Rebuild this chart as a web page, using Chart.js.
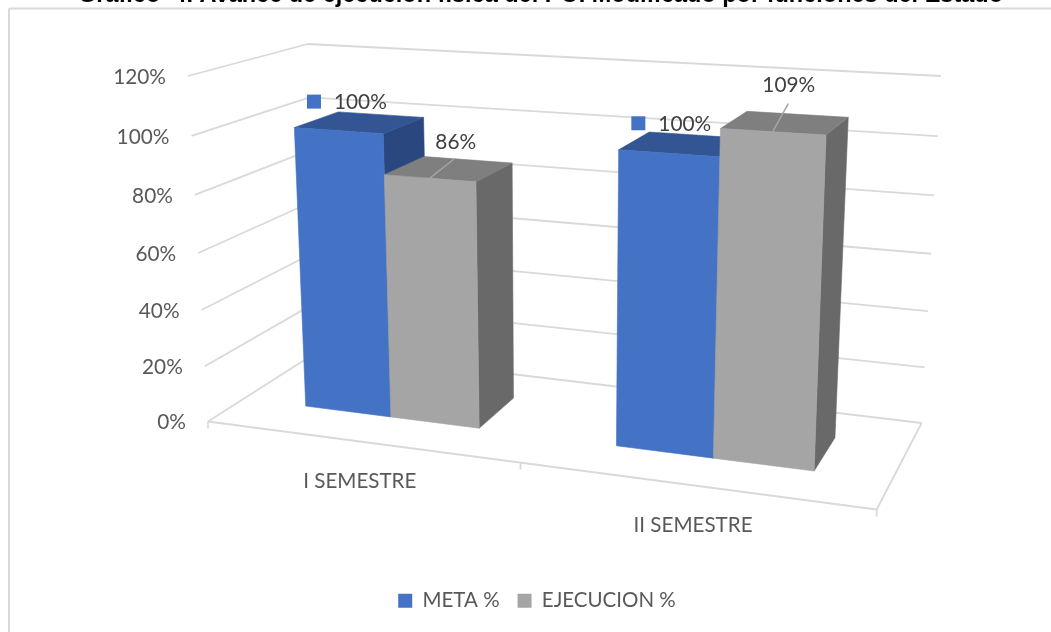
<!DOCTYPE html>
<html>
<head>
<meta charset="utf-8">
<style>html,body{margin:0;padding:0;background:#fff}canvas{display:block}</style>
<script src="https://cdn.jsdelivr.net/npm/chart.js@4"></script>
</head>
<body>
<canvas id="c" width="1051" height="632"></canvas>
<script>
const titleText = 'Gráfico  4. Avance de ejecución física del POI Modificado por funciones del Estado';
const categories = ['I SEMESTRE', 'II SEMESTRE'];
const seriesNames = ['META %', 'EJECUCION %'];
const metaValues = [100, 100];
const ejecucionValues = [86, 109];
const axisMax = 120;
const axisStep = 20;

// projection of the unit box (u across, v up, w into the picture) onto the page
const corners = {
  fbl: [208, 421.5], fbr: [876.7, 509.5], bbl: [318.6, 351], bbr: [921.6, 423],
  ftl: [188, 76], ftr: [893, 118], btl: [307.6, 44], btr: [941, 76]
};
const uPersp = 1.14, vPersp = 1.05;
const barFront = 0.33, barBack = 0.725;
const warp = (t, k) => t / (t + k * (1 - t));
const mix = (a, b, t) => [a[0] + (b[0] - a[0]) * t, a[1] + (b[1] - a[1]) * t];
function P(u, v, w) {
  const U = warp(u, uPersp), V = warp(v, vPersp), c = corners;
  const bottom = mix(mix(c.fbl, c.fbr, U), mix(c.bbl, c.bbr, U), w);
  const top = mix(mix(c.ftl, c.ftr, U), mix(c.btl, c.btr, U), w);
  return mix(bottom, top, V);
}
const faces = [
  {front: '#4472C4', top: '#335593', side: '#2A4780'},
  {front: '#A5A5A5', top: '#7F7F7F', side: '#696969'}
];
// label placement relative to the top centre of each bar's front face
const labelPlacement = [
  [{dx: 22, dy: -28, key: true}, {dx: 16, dy: -29, key: true}],
  [{dx: 26, dy: -36, lead: [24, -19]}, {dx: 16, dy: -46, lead: [15.5, -28]}]
];
const FONT = 'Lato, sans-serif';

function poly(ctx, pts, fill) {
  ctx.beginPath();
  pts.forEach((p, i) => i ? ctx.lineTo(p[0], p[1]) : ctx.moveTo(p[0], p[1]));
  ctx.closePath();
  ctx.fillStyle = fill; ctx.strokeStyle = fill; ctx.lineWidth = 0.6;
  ctx.fill(); ctx.stroke();
}
function line(ctx, a, b, color, width) {
  ctx.beginPath(); ctx.moveTo(a[0], a[1]); ctx.lineTo(b[0], b[1]);
  ctx.strokeStyle = color; ctx.lineWidth = width; ctx.stroke();
}

const box3d = {
  id: 'box3d',
  beforeDatasetsDraw(chart) {
    const {ctx, chartArea: ca, scales: {x, y}} = chart;
    const toU = px => (px - ca.left) / ca.width;
    const toV = val => (y.bottom - y.getPixelForValue(val)) / y.height;
    const grid = '#D9D9D9', gw = 1.8;
    ctx.save();
    // frame
    line(ctx, [9, 8.5], [1051, 8.5], '#D9D9D9', 2);
    line(ctx, [9, 8.5], [9, 632], '#D9D9D9', 2);
    // title
    ctx.fillStyle = '#000'; ctx.font = 'bold 23.5px "Liberation Sans", Arial, sans-serif';
    ctx.textAlign = 'center'; ctx.textBaseline = 'alphabetic';
    ctx.fillText(titleText, 540.5, 2);
    // walls + value labels
    y.ticks.forEach(t => {
      const v = toV(t.value);
      const a = P(0, v, 0), b = P(0, v, 1), c = P(1, v, 1);
      ctx.lineJoin = 'round';
      ctx.beginPath(); ctx.moveTo(a[0], a[1]); ctx.lineTo(b[0], b[1]); ctx.lineTo(c[0], c[1]);
      ctx.strokeStyle = grid; ctx.lineWidth = gw; ctx.stroke();
      ctx.fillStyle = '#595959'; ctx.font = '20.8px ' + FONT;
      ctx.textAlign = 'right'; ctx.textBaseline = 'middle';
      ctx.fillText(t.label, a[0] - 22, a[1] + 1);
    });
    // floor front + right edge, ticks
    line(ctx, P(0, 0, 0), P(1, 0, 0), grid, gw);
    line(ctx, P(1, 0, 0), P(1, 0, 1), grid, gw);
    [0, 0.5, 1].forEach(u => {
      const p = P(u, 0, 0);
      line(ctx, p, [p[0], p[1] + 7], grid, gw);
    });
    // category labels
    categories.forEach((name, i) => {
      const p = P(toU(x.getPixelForValue(i)), 0, 0);
      ctx.fillStyle = '#595959'; ctx.font = '20.6px ' + FONT;
      ctx.textAlign = 'center'; ctx.textBaseline = 'middle';
      ctx.fillText(name, p[0] + 0.5, p[1] + 40);
    });
    // bars
    const w0 = barFront, w1 = barBack;
    categories.forEach((_, j) => {
      chart.data.datasets.forEach((ds, i) => {
        const el = chart.getDatasetMeta(i).data[j];
        const u0 = toU(el.x - el.width / 2), u1 = toU(el.x + el.width / 2);
        const v = toV(ds.data[j]), c = faces[i];
        poly(ctx, [P(u1, 0, w0), P(u1, 0, w1), P(u1, v, w1), P(u1, v, w0)], c.side);
        poly(ctx, [P(u0, v, w0), P(u0, v, w1), P(u1, v, w1), P(u1, v, w0)], c.top);
        poly(ctx, [P(u0, 0, w0), P(u1, 0, w0), P(u1, v, w0), P(u0, v, w0)], c.front);
      });
    });
    // data labels
    chart.data.datasets.forEach((ds, i) => {
      ds.data.forEach((val, j) => {
        const el = chart.getDatasetMeta(i).data[j];
        const a = P(toU(el.x), toV(val), w0), l = labelPlacement[i][j];
        const cx = a[0] + l.dx, cy = a[1] + l.dy;
        if (l.lead) line(ctx, a, [a[0] + l.lead[0], a[1] + l.lead[1]], '#A6A6A6', 1.5);
        ctx.font = '20.8px ' + FONT; ctx.fillStyle = '#404040';
        ctx.textAlign = 'center'; ctx.textBaseline = 'middle';
        const text = val + '%';
        ctx.fillText(text, cx, cy);
        if (l.key) {
          ctx.fillStyle = ds.backgroundColor;
          ctx.fillRect(cx - ctx.measureText(text).width / 2 - 27, cy - 8, 14, 14);
        }
      });
    });
    ctx.restore();
    return false;
  }
};

new Chart(document.getElementById('c'), {
  type: 'bar',
  data: {
    labels: categories,
    datasets: [
      {label: seriesNames[0], data: metaValues, backgroundColor: '#4472C4'},
      {label: seriesNames[1], data: ejecucionValues, backgroundColor: '#A5A5A5'}
    ]
  },
  options: {
    responsive: false,
    animation: false,
    events: [],
    layout: {padding: {left: 23, bottom: 11}},
    datasets: {bar: {categoryPercentage: 0.574, barPercentage: 1}},
    scales: {
      x: {display: false},
      y: {display: false, min: 0, max: axisMax, ticks: {stepSize: axisStep, callback: v => v + '%'}}
    },
    plugins: {
      tooltip: {enabled: false},
      legend: {
        position: 'bottom',
        labels: {boxWidth: 14, boxHeight: 14, padding: 18, color: '#595959', font: {family: 'Lato', size: 20.5}}
      }
    }
  },
  plugins: [box3d]
});
</script>
</body>
</html>
